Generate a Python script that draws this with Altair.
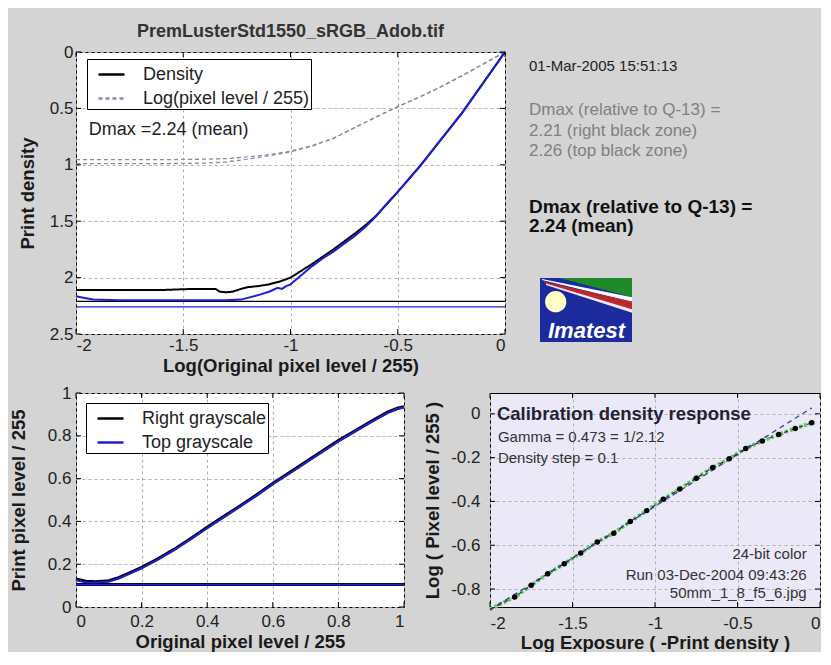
import altair as alt
import pandas as pd

FONT = "Liberation Sans"
BG = "#d4d4d4"
BLUE = "#1e1ed2"
LOG_GRAY = "#8a8aa6"
LAVENDER = "#ebe8f7"
GRID = "#b0b0b0"
INK = "#222222"

# ---------------- top panel data ----------------
top_title = "PremLusterStd1550_sRGB_Adob.tif"
top_series = ["Density", "Log(pixel level / 255)"]
dens_x = [-2.0, -1.8, -1.6, -1.45, -1.38, -1.35, -1.33, -1.30, -1.27, -1.23,
          -1.2, -1.15, -1.1, -1.05, -1.0, -0.95, -0.9, -0.85, -0.8, -0.75,
          -0.7, -0.65, -0.6, -0.55, -0.5, -0.45, -0.4, -0.35, -0.3, -0.25,
          -0.2, -0.15, -0.1, -0.05, 0.0]
dens_right = [2.11, 2.11, 2.11, 2.10, 2.10, 2.10, 2.125, 2.13, 2.125, 2.10,
              2.085, 2.075, 2.06, 2.035, 2.0, 1.94, 1.88, 1.815, 1.75, 1.68,
              1.61, 1.535, 1.45, 1.345, 1.24, 1.13, 1.02, 0.90, 0.78, 0.66,
              0.54, 0.405, 0.27, 0.135, 0.0]
dens_top_x = [-2.0, -1.96, -1.92, -1.8, -1.6, -1.45, -1.3, -1.23, -1.2, -1.15,
              -1.1, -1.06, -1.04, -1.02, -1.0, -0.95, -0.9, -0.85, -0.8, -0.75,
              -0.7, -0.65, -0.6, -0.55, -0.5, -0.45, -0.4, -0.35, -0.3, -0.25,
              -0.2, -0.15, -0.1, -0.05, 0.0]
dens_top = [2.165, 2.18, 2.195, 2.20, 2.20, 2.20, 2.20, 2.195, 2.18, 2.155,
            2.125, 2.09, 2.10, 2.075, 2.06, 1.98, 1.90, 1.83, 1.77, 1.70,
            1.63, 1.55, 1.455, 1.345, 1.24, 1.13, 1.02, 0.90, 0.78, 0.66,
            0.54, 0.405, 0.27, 0.135, 0.0]
log_x = [-2.0, -1.8, -1.6, -1.4, -1.3, -1.2, -1.1, -1.0, -0.9, -0.8,
         -0.7, -0.6, -0.5, -0.4, -0.3, -0.2, -0.1, 0.0]
log_right = [0.955, 0.955, 0.955, 0.95, 0.945, 0.93, 0.91, 0.88, 0.83, 0.765,
             0.67, 0.575, 0.485, 0.40, 0.31, 0.21, 0.105, 0.0]
log_top = [0.99, 0.99, 0.99, 0.985, 0.975, 0.95, 0.92, 0.885, 0.835, 0.765,
           0.67, 0.575, 0.485, 0.40, 0.31, 0.21, 0.105, 0.0]
dmax_zone_x = [-2.0, 0.0]
dmax_right_zone = 2.21
dmax_top_zone = 2.26
dmax_label = "Dmax =2.24 (mean)"
top_x_ticks = [-2, -1.5, -1, -0.5, 0]
top_y_ticks = [0, 0.5, 1, 1.5, 2, 2.5]

# ---------------- right-hand info ----------------
info_text = ["01-Mar-2005 15:51:13", "Dmax (relative to Q-13) =",
             "2.21 (right black zone)", "2.26 (top black zone)",
             "Dmax (relative to Q-13) =", "2.24 (mean)"]
info_style = ["date", "gray", "gray", "gray", "bold", "bold"]

# ---------------- bottom-left data ----------------
bl_series = ["Right grayscale", "Top grayscale"]
bl_x = [0, 0.03, 0.06, 0.1, 0.13, 0.16, 0.2, 0.25, 0.3, 0.35, 0.4, 0.45,
        0.5, 0.55, 0.6, 0.65, 0.7, 0.75, 0.8, 0.85, 0.9, 0.95, 0.98, 1.0]
bl_right = [0.13, 0.12, 0.117, 0.122, 0.137, 0.157, 0.185, 0.225, 0.27, 0.32,
            0.372, 0.422, 0.472, 0.523, 0.577, 0.627, 0.677, 0.727, 0.777,
            0.822, 0.867, 0.91, 0.928, 0.935]
bl_top = [0.125, 0.116, 0.114, 0.12, 0.133, 0.153, 0.181, 0.222, 0.267, 0.317,
          0.369, 0.419, 0.469, 0.52, 0.574, 0.624, 0.674, 0.724, 0.774,
          0.819, 0.864, 0.907, 0.926, 0.932]
bl_floor_x = [0.0, 1.0]
bl_floor = 0.105
bl_ticks = [0, 0.2, 0.4, 0.6, 0.8, 1]

# ---------------- bottom-right data ----------------
cal_title = "Calibration density response"
cal_notes = ["Gamma = 0.473 = 1/2.12", "Density step = 0.1"]
cal_footer = ["24-bit color", "Run 03-Dec-2004 09:43:26", "50mm_1_8_f5_6.jpg"]
cal_x = [-1.85, -1.75, -1.65, -1.55, -1.45, -1.35, -1.25, -1.15, -1.05, -0.95,
         -0.85, -0.75, -0.65, -0.55, -0.45, -0.35, -0.25, -0.15, -0.05]
cal_y = [-0.836, -0.783, -0.730, -0.685, -0.635, -0.585, -0.545, -0.492, -0.442,
         -0.39, -0.343, -0.294, -0.245, -0.205, -0.158, -0.124, -0.094, -0.067,
         -0.041]
smooth_x = [-2.0] + cal_x
smooth_y = [-0.892] + cal_y
fit_x = [-2.0, -0.05]
fit_y = [-0.895, 0.027]
br_x_ticks = [-2, -1.5, -1, -0.5, 0]
br_y_ticks = [0, -0.2, -0.4, -0.6, -0.8]

# ---------------- layout / style ----------------
TOP_W, TOP_H = 429, 282
INFO_W, INFO_H = 260, 282
BL_W, BL_H = 328, 214
BR_W, BR_H = 330, 214
LABEL_EXPR = "datum.value + ''"

info_y = [14, 58, 79, 99, 155, 174]
info_font = {"date": (15, "normal", "#222222"),
             "gray": (17, "normal", "#808080"),
             "bold": (19, "bold", "#111111")}
logo_box = {"x": [11], "x2": [103], "y": [226], "y2": [290]}
logo_bands = [  # (color, x, y, y2)
    ("#1f8a2a", [31.7, 103], [226, 226], [226.3, 245.3]),
    ("#ffffff", [13, 103], [227, 245.3], [228, 249.7]),
    ("#c0262a", [15, 103], [229.5, 249.7], [231, 257.3]),
    ("#f4e8f0", [17, 103], [231.5, 257.3], [233, 260.7]),
]
logo_sun = {"x": [26.7], "y": [249.7]}
logo_word = {"x": [57.5], "y": [278.5], "t": ["Imatest"]}


def tick_marks(xvals, yvals, xe, ye, w, h, L=5):
    dx = pd.DataFrame({"x": xvals})
    dy = pd.DataFrame({"y": yvals})
    r = dict(color="black", strokeWidth=1)
    return [
        alt.Chart(dx).mark_rule(**r).encode(x=xe, y=alt.value(0), y2=alt.value(L)),
        alt.Chart(dx).mark_rule(**r).encode(x=xe, y=alt.value(h - L), y2=alt.value(h)),
        alt.Chart(dy).mark_rule(**r).encode(y=ye, x=alt.value(0), x2=alt.value(L)),
        alt.Chart(dy).mark_rule(**r).encode(y=ye, x=alt.value(w - L), x2=alt.value(w)),
    ]


def legend(lx, ly):
    return alt.Legend(orient="none", legendX=lx, legendY=ly, title=None,
                      fillColor="white", strokeColor="black", padding=1,
                      rowPadding=-3, labelFontSize=18, labelColor=INK,
                      labelLimit=400, labelOffset=17, symbolType="stroke",
                      symbolSize=676, symbolStrokeWidth=2.5, symbolOffset=9)


# ================= top panel =================
xs_top = alt.Scale(domain=[-2, 0], nice=False, zero=False)
ys_top = alt.Scale(domain=[0, 2.5], reverse=True, nice=False, zero=False)
x_top = alt.X("x:Q", scale=xs_top, axis=alt.Axis(
    values=top_x_ticks, labelExpr=LABEL_EXPR, title="Log(Original pixel level / 255)",
    labelPadding=3, minExtent=22, maxExtent=22, titlePadding=0))
y_top = alt.Y("y:Q", scale=ys_top, axis=alt.Axis(
    values=top_y_ticks, labelExpr=LABEL_EXPR, title="Print density",
    labelPadding=3, minExtent=38.5, maxExtent=38.5, titlePadding=0))
col_top = alt.Color("series:N", scale=alt.Scale(domain=top_series, range=["black", LOG_GRAY]),
                    legend=legend(11, 7))
dash_top = alt.StrokeDash("series:N", scale=alt.Scale(domain=top_series, range=[[1, 0], [4, 3]]),
                          legend=legend(11, 7))

df_log = pd.concat([
    pd.DataFrame({"x": log_x, "y": log_right, "series": top_series[1], "g": "right"}),
    pd.DataFrame({"x": log_x, "y": log_top, "series": top_series[1], "g": "top"}),
])
df_dens = pd.DataFrame({"x": dens_x, "y": dens_right, "series": top_series[0]})
df_dens_top = pd.DataFrame({"x": dens_top_x, "y": dens_top})
df_zone_r = pd.DataFrame({"x": dmax_zone_x, "y": [dmax_right_zone] * 2})
df_zone_t = pd.DataFrame({"x": dmax_zone_x, "y": [dmax_top_zone] * 2})

top_layers = [
    alt.Chart(df_log).mark_line(strokeWidth=1.3).encode(x=x_top, y=y_top, color=col_top,
                                                         strokeDash=dash_top, detail="g:N"),
    alt.Chart(df_zone_r).mark_line(color="black", strokeWidth=1.2).encode(x=x_top, y=y_top),
    alt.Chart(df_zone_t).mark_line(color=BLUE, strokeWidth=1.2).encode(x=x_top, y=y_top),
    alt.Chart(df_dens).mark_line(strokeWidth=2).encode(x=x_top, y=y_top, color=col_top,
                                                       strokeDash=dash_top),
    alt.Chart(df_dens_top).mark_line(color=BLUE, strokeWidth=2).encode(x=x_top, y=y_top),
    alt.Chart(pd.DataFrame({"t": [dmax_label]})).mark_text(
        align="left", baseline="middle", fontSize=18, color=INK).encode(
        x=alt.datum(-1.94, scale=xs_top), y=alt.datum(0.69, scale=ys_top), text="t:N"),
] + tick_marks(top_x_ticks, top_y_ticks, x_top, y_top, TOP_W, TOP_H)

top = alt.layer(*top_layers).properties(
    width=TOP_W, height=TOP_H,
    title=alt.Title(top_title, fontSize=18, fontWeight="bold", color="#333333",
                    offset=2, frame="group", anchor="middle"),
    view=alt.ViewBackground(fill="white", stroke="black"))

# ================= info panel =================
xs_i = alt.Scale(domain=[0, INFO_W], nice=False, zero=False)
ys_i = alt.Scale(domain=[0, INFO_H], reverse=True, nice=False, zero=False)
info_layers = []
for style, (fs, fw, fc) in info_font.items():
    rows = [(t, y) for t, s, y in zip(info_text, info_style, info_y) if s == style]
    d = pd.DataFrame({"t": [r[0] for r in rows], "y": [r[1] for r in rows], "x": 0})
    info_layers.append(alt.Chart(d).mark_text(
        align="left", baseline="middle", fontSize=fs, fontWeight=fw, color=fc).encode(
        x=alt.X("x:Q", scale=xs_i, axis=None), y=alt.Y("y:Q", scale=ys_i, axis=None), text="t:N"))
info_layers.append(alt.Chart(pd.DataFrame(logo_box)).mark_rect(color="#1b2a9c").encode(
    x=alt.X("x:Q", scale=xs_i, axis=None), x2="x2:Q",
    y=alt.Y("y:Q", scale=ys_i, axis=None), y2="y2:Q"))
for colr, bx, by, by2 in logo_bands:
    info_layers.append(alt.Chart(pd.DataFrame({"x": bx, "y": by, "y2": by2})).mark_area(
        color=colr, opacity=1).encode(
        x=alt.X("x:Q", scale=xs_i, axis=None), y=alt.Y("y:Q", scale=ys_i, axis=None), y2="y2:Q"))
info_layers.append(alt.Chart(pd.DataFrame(logo_sun)).mark_circle(
    size=452, color="#ffffc8", opacity=1).encode(
    x=alt.X("x:Q", scale=xs_i, axis=None), y=alt.Y("y:Q", scale=ys_i, axis=None)))
info_layers.append(alt.Chart(pd.DataFrame(logo_word)).mark_text(
    fontSize=22, fontWeight="bold", fontStyle="italic", color="white",
    align="center", baseline="middle").encode(
    x=alt.X("x:Q", scale=xs_i, axis=None), y=alt.Y("y:Q", scale=ys_i, axis=None), text="t:N"))
info = alt.layer(*info_layers).properties(
    width=INFO_W, height=INFO_H, view=alt.ViewBackground(stroke="transparent"))

# ================= bottom-left panel =================
xs_bl = alt.Scale(domain=[0, 1], nice=False, zero=False)
ys_bl = alt.Scale(domain=[0, 1], nice=False, zero=False)
x_bl = alt.X("x:Q", scale=xs_bl, axis=alt.Axis(
    values=bl_ticks, labelExpr=LABEL_EXPR, title="Original pixel level / 255",
    labelPadding=6, minExtent=25, maxExtent=25, titlePadding=0))
y_bl = alt.Y("y:Q", scale=ys_bl, axis=alt.Axis(
    values=bl_ticks, labelExpr=LABEL_EXPR, title="Print pixel level / 255",
    labelPadding=5, minExtent=48, maxExtent=48, titlePadding=0))
col_bl = alt.Color("series:N", scale=alt.Scale(domain=bl_series, range=["black", BLUE]),
                   legend=legend(10, 10))
df_bl_r = pd.DataFrame({"x": bl_x, "y": bl_right, "series": bl_series[0]})
df_bl_t = pd.DataFrame({"x": bl_x, "y": bl_top, "series": bl_series[1]})
df_bl_fr = pd.DataFrame({"x": bl_floor_x, "y": [bl_floor] * 2, "series": bl_series[0]})
df_bl_ft = pd.DataFrame({"x": bl_floor_x, "y": [bl_floor] * 2, "series": bl_series[1]})
bl_layers = [
    alt.Chart(df_bl_fr).mark_line(strokeWidth=3).encode(x=x_bl, y=y_bl, color=col_bl),
    alt.Chart(df_bl_ft).mark_line(strokeWidth=1.8).encode(x=x_bl, y=y_bl, color=col_bl),
    alt.Chart(df_bl_r).mark_line(strokeWidth=3.2).encode(x=x_bl, y=y_bl, color=col_bl),
    alt.Chart(df_bl_t).mark_line(strokeWidth=2).encode(x=x_bl, y=y_bl, color=col_bl),
] + tick_marks(bl_ticks, bl_ticks, x_bl, y_bl, BL_W, BL_H)
bl = alt.layer(*bl_layers).properties(
    width=BL_W, height=BL_H, view=alt.ViewBackground(fill="white", stroke="black"))

# ================= bottom-right panel =================
xs_br = alt.Scale(domain=[-2, 0], nice=False, zero=False)
ys_br = alt.Scale(domain=[-0.882, 0.095], nice=False, zero=False)
x_br = alt.X("x:Q", scale=xs_br, axis=alt.Axis(
    values=br_x_ticks, labelExpr=LABEL_EXPR, title="Log Exposure ( -Print density )",
    labelPadding=8, minExtent=26, maxExtent=26, titlePadding=0))
y_br = alt.Y("y:Q", scale=ys_br, axis=alt.Axis(
    values=br_y_ticks, labelExpr=LABEL_EXPR, title="Log ( Pixel level / 255 )",
    labelPadding=10, minExtent=47.5, maxExtent=47.5, titlePadding=0))
df_fit = pd.DataFrame({"x": fit_x, "y": fit_y})
df_smooth = pd.DataFrame({"x": smooth_x, "y": smooth_y})
df_cal = pd.DataFrame({"x": cal_x, "y": cal_y})
br_text_pos = {"title": (-1.958, 0.0), "notes_x": -1.952, "notes_y": [-0.106, -0.202],
               "foot_x": -0.081, "foot_y": [-0.640, -0.736, -0.818]}
df_notes = pd.DataFrame({"t": cal_notes, "x": br_text_pos["notes_x"], "y": br_text_pos["notes_y"]})
df_foot = pd.DataFrame({"t": cal_footer, "x": br_text_pos["foot_x"], "y": br_text_pos["foot_y"]})
df_ctitle = pd.DataFrame({"t": [cal_title], "x": [br_text_pos["title"][0]],
                          "y": [br_text_pos["title"][1]]})
br_layers = [
    alt.Chart(df_smooth).mark_line(color="#66cc66", strokeWidth=4, strokeDash=[3, 2]).encode(x=x_br, y=y_br),
    alt.Chart(df_fit).mark_line(color="#3a3ab8", strokeWidth=1.3, strokeDash=[5, 4]).encode(x=x_br, y=y_br),
    alt.Chart(df_smooth).mark_line(color="#333333", strokeWidth=1.2, strokeDash=[4, 4]).encode(x=x_br, y=y_br),
    alt.Chart(df_cal).mark_circle(color="black", size=30, opacity=1).encode(x=x_br, y=y_br),
    alt.Chart(df_ctitle).mark_text(align="left", baseline="middle", fontSize=18.5,
                                   fontWeight="bold", color="#222233").encode(x=x_br, y=y_br, text="t:N"),
    alt.Chart(df_notes).mark_text(align="left", baseline="middle", fontSize=15,
                                  color="#333333").encode(x=x_br, y=y_br, text="t:N"),
    alt.Chart(df_foot).mark_text(align="right", baseline="middle", fontSize=15,
                                 color="#333333").encode(x=x_br, y=y_br, text="t:N"),
] + tick_marks(br_x_ticks, br_y_ticks, x_br, y_br, BR_W, BR_H)
br = alt.layer(*br_layers).properties(
    width=BR_W, height=BR_H, view=alt.ViewBackground(fill=LAVENDER, stroke="black"))

# ================= assemble =================
chart = alt.vconcat(
    alt.hconcat(top, info, spacing=18),
    alt.hconcat(bl, br, spacing=12),
    spacing=8,
).resolve_scale(
    color="independent", strokeDash="independent"
).properties(
    padding={"left": 0, "top": 14, "right": 0, "bottom": 0}
).configure(
    background=BG, font=FONT
).configure_view(
    stroke="black", strokeWidth=1
).configure_axis(
    domain=False, ticks=False, tickSize=0, grid=True, gridColor=GRID, gridDash=[3, 3],
    gridWidth=1, labelFont=FONT, labelFontSize=17, labelColor=INK, titleFont=FONT,
    titleFontSize=18.5, titleFontWeight="bold", titleColor="#1a1a1a"
).configure_title(font=FONT)

chart.save("out.html", embed_options={"renderer": "svg", "actions": False})
